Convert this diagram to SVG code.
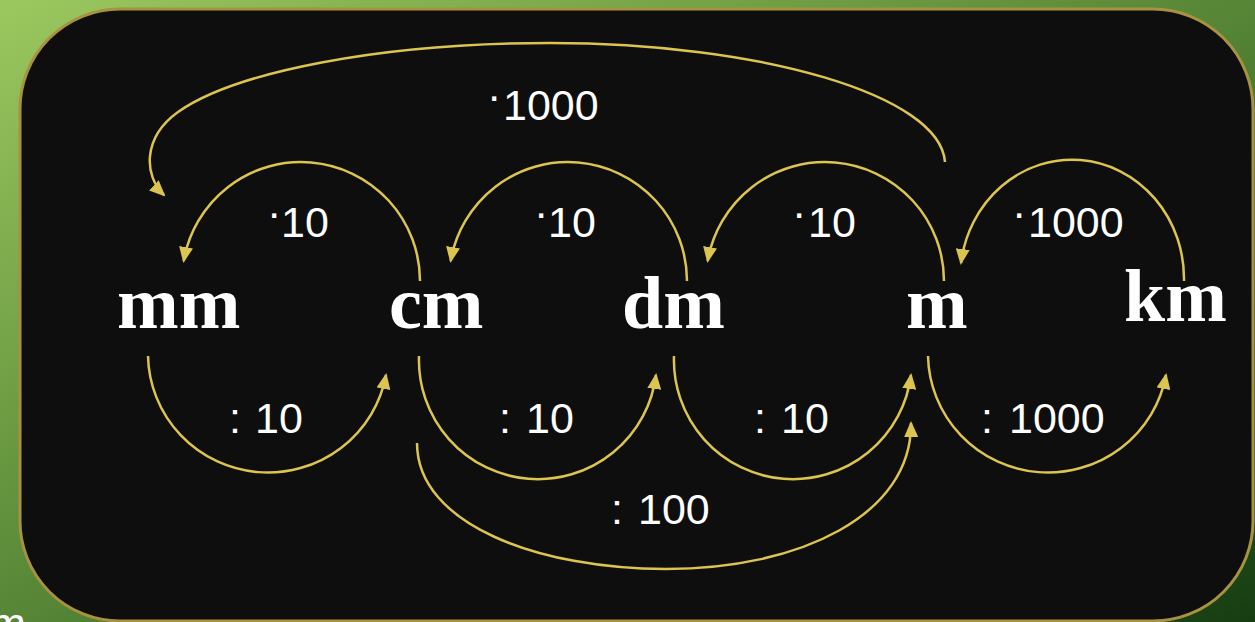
<svg xmlns="http://www.w3.org/2000/svg" width="1255" height="622" viewBox="0 0 1255 622">
<defs>
<linearGradient id="bg" x1="0" y1="0" x2="1" y2="1">
<stop offset="0" stop-color="#9cc85f"/>
<stop offset="0.5" stop-color="#568636"/>
<stop offset="1" stop-color="#163d12"/>
</linearGradient>
<marker id="ah" markerUnits="userSpaceOnUse" markerWidth="16" markerHeight="14" refX="14" refY="7" orient="auto" viewBox="0 0 16 14">
<path d="M0,0 L16,7 L0,14 z" fill="#dcc54e"/>
</marker>
<style>
.unit{font-family:"Liberation Serif","Times New Roman",serif;font-weight:bold;font-size:74px;fill:#ffffff}
.lbl{font-family:"Liberation Sans",Arial,sans-serif;font-size:43px;fill:#ffffff}
.arc{fill:none;stroke:#dcc54e;stroke-width:2.5;marker-end:url(#ah)}
</style>
</defs>
<rect x="0" y="0" width="1255" height="622" fill="url(#bg)"/>
<text x="-10" y="638" class="lbl" font-size="46">m</text>
<rect x="20" y="9" width="1233" height="612" rx="100" ry="100" fill="#0e0e0e" stroke="#a8913f" stroke-width="3"/>

<g id="connectors">
<path class="arc" d="M420,281 A119,119 0 0 0 183.7,261"/>
<path class="arc" d="M687,281 A119,119 0 0 0 450.7,261"/>
<path class="arc" d="M944,281 A119,119 0 0 0 707.7,261"/>
<path class="arc" d="M1184,281 A112,119 0 0 0 961,263"/>
<path class="arc" d="M148,356 A120,119 0 0 0 386,375"/>
<path class="arc" d="M419,356 A119,119 0 0 0 656,375"/>
<path class="arc" d="M674,356 A119,119 0 0 0 911,375"/>
<path class="arc" d="M928,356 A120,119 0 0 0 1166,375"/>
<path class="arc" d="M417,443 C417,525 540,569 666,569 C800,569 912,515 911,423"/>
<path class="arc" d="M945,162 C940,95 760,43 550,43 C380,43 235,72 178,112 C142,138 144,176 164,195"/>
</g>

<g id="labels">
<text class="lbl" y="237"><tspan x="267" dy="-10">·</tspan><tspan x="281" dy="10">10</tspan></text>
<text class="lbl" y="237"><tspan x="534" dy="-10">·</tspan><tspan x="548" dy="10">10</tspan></text>
<text class="lbl" y="237"><tspan x="792" dy="-10">·</tspan><tspan x="808" dy="10">10</tspan></text>
<text class="lbl" y="237"><tspan x="1012" dy="-10">·</tspan><tspan x="1028" dy="10">1000</tspan></text>
<text class="lbl" y="120"><tspan x="487" dy="-10">·</tspan><tspan x="503" dy="10">1000</tspan></text>
<text class="lbl" y="433"><tspan x="229">:</tspan><tspan x="255">10</tspan></text>
<text class="lbl" y="433"><tspan x="499">:</tspan><tspan x="526">10</tspan></text>
<text class="lbl" y="433"><tspan x="754">:</tspan><tspan x="781">10</tspan></text>
<text class="lbl" y="433"><tspan x="981">:</tspan><tspan x="1009">1000</tspan></text>
<text class="lbl" y="524"><tspan x="611">:</tspan><tspan x="638">100</tspan></text>
</g>

<g id="node-mm"><text class="unit" x="117" y="328">mm</text></g>
<g id="node-cm"><text class="unit" x="389" y="328">cm</text></g>
<g id="node-dm"><text class="unit" x="622" y="328">dm</text></g>
<g id="node-m"><text class="unit" x="906" y="328">m</text></g>
<g id="node-km"><text class="unit" x="1124" y="321">km</text></g>
</svg>
